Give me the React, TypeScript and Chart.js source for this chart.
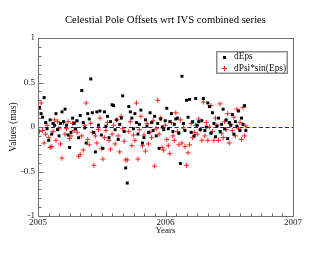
import React, { useEffect, useRef } from "react";
import { Chart, registerables } from "chart.js";

Chart.register(...registerables);

const titleText = "Celestial Pole Offsets wrt IVS combined series";
const xTitle = "Years";
const yTitle = "Values (mas)";
const seriesNames = ["dEps", "dPsi*sin(Eps)"];

const xTicks = [2005, 2006, 2007];
const yTicks = [-1, -0.5, 0, 0.5, 1];

const dates = [
  2005.012, 2005.024, 2005.036, 2005.048, 2005.060, 2005.071, 2005.084, 2005.095, 2005.107, 2005.118,
  2005.130, 2005.141, 2005.153, 2005.165, 2005.176, 2005.188, 2005.200, 2005.212, 2005.224, 2005.236,
  2005.248, 2005.259, 2005.271, 2005.283, 2005.295, 2005.307, 2005.319, 2005.331, 2005.343, 2005.355,
  2005.367, 2005.378, 2005.390, 2005.402, 2005.414, 2005.426, 2005.438, 2005.450, 2005.462, 2005.474,
  2005.486, 2005.497, 2005.509, 2005.521, 2005.533, 2005.545, 2005.557, 2005.569, 2005.581, 2005.593,
  2005.605, 2005.617, 2005.629, 2005.641, 2005.653, 2005.664, 2005.676, 2005.688, 2005.700, 2005.712,
  2005.724, 2005.736, 2005.748, 2005.760, 2005.772, 2005.784, 2005.795, 2005.807, 2005.819, 2005.831,
  2005.843, 2005.855, 2005.867, 2005.879, 2005.891, 2005.903, 2005.915, 2005.927, 2005.939, 2005.950,
  2005.962, 2005.974, 2005.986, 2005.998, 2006.010, 2006.022, 2006.034, 2006.046, 2006.058, 2006.069,
  2006.081, 2006.093, 2006.105, 2006.117, 2006.129, 2006.141, 2006.153, 2006.165, 2006.177, 2006.189,
  2006.201, 2006.213, 2006.225, 2006.237, 2006.249, 2006.261, 2006.273, 2006.285, 2006.297, 2006.309,
  2006.320, 2006.332, 2006.344, 2006.356, 2006.368, 2006.380, 2006.392, 2006.404, 2006.416, 2006.428,
  2006.440, 2006.452, 2006.464, 2006.476, 2006.488, 2006.500, 2006.512, 2006.524, 2006.536, 2006.548,
  2006.560, 2006.572, 2006.584, 2006.596, 2006.608, 2006.620, 2006.630,
];

const dEps = [
  0.22, 0.15, 0.11, 0.33, 0.05, -0.02, -0.15, 0.08, -0.08, 0.04,
  0.02, 0.15, -0.03, -0.10, 0.04, 0.17, 0.06, 0.20, 0.02, -0.09,
  -0.23, -0.06, 0.10, 0.04, -0.02, 0.07, -0.12, 0.13, 0.41, 0.05,
  -0.01, -0.18, 0.15, 0.09, 0.54, 0.16, -0.06, -0.28, 0.17, 0.02,
  0.18, -0.09, -0.24, 0.17, 0.01, 0.12, -0.12, 0.06, 0.25, 0.24,
  -0.03, 0.08, -0.14, 0.03, 0.10, 0.35, -0.05, -0.46, -0.63, 0.23,
  0.17, 0.10, -0.02, 0.15, 0.05, -0.08, 0.03, 0.19, -0.18, -0.12,
  0.08, 0.01, -0.06, 0.16, 0.05, -0.04, 0.12, -0.10, 0.04, -0.24,
  0.09, 0.00, -0.03, 0.07, 0.21, -0.02, 0.06, 0.15, -0.05, 0.03,
  0.09, 0.10, -0.07, -0.41, 0.57, 0.04, -0.04, 0.30, 0.11, 0.31,
  -0.06, 0.06, -0.10, 0.32, 0.02, 0.06, -0.03, 0.07, 0.32, -0.04,
  0.00, 0.27, 0.23, -0.07, 0.16, 0.04, -0.11, 0.01, 0.10, -0.05,
  0.03, 0.20, -0.02, 0.08, -0.13, 0.05, 0.02, 0.14, -0.08, 0.06,
  0.01, 0.18, -0.04, 0.10, 0.03, 0.24, -0.04,
];

const dPsiSinEps = [
  -0.05, 0.27, -0.04, -0.18, -0.08, 0.02, -0.12, -0.23, -0.22, -0.05,
  0.08, -0.15, 0.06, -0.02, -0.19, -0.35, 0.05, -0.08, -0.02, 0.06,
  -0.13, -0.10, 0.04, -0.04, 0.06, -0.06, -0.33, -0.31, -0.10, -0.26,
  0.02, 0.27, -0.14, -0.20, 0.04, -0.06, -0.43, -0.10, -0.18, -0.03,
  0.10, -0.24, -0.36, -0.12, -0.04, 0.05, -0.15, -0.25, -0.08, 0.02,
  -0.19, 0.08, -0.10, -0.28, 0.12, -0.02, -0.16, -0.37, -0.37, -0.05,
  0.06, -0.21, -0.09, -0.15, 0.27, -0.36, -0.03, 0.12, -0.21, -0.09,
  -0.27, 0.04, -0.19, -0.06, -0.12, 0.07, -0.44, -0.02, 0.30, -0.08,
  0.10, -0.23, -0.26, 0.02, -0.14, -0.21, -0.30, 0.05, -0.10, -0.15,
  0.16, -0.05, -0.20, 0.08, -0.18, -0.01, -0.22, -0.43, -0.29, -0.20,
  0.04, -0.12, -0.06, 0.02, -0.08, 0.09, -0.03, -0.15, 0.28, -0.10,
  0.05, -0.15, 0.00, 0.24, -0.05, -0.15, 0.10, 0.02, -0.15, 0.26,
  -0.07, -0.12, 0.06, -0.03, 0.15, -0.18, 0.03, -0.04, 0.11, -0.10,
  0.20, -0.02, 0.05, -0.14, 0.22, -0.10, 0.01,
];

const SERIF = "'Liberation Serif', 'Times New Roman', serif";
const FRAME = "#6e6e6e";

const decorPlugin = {
  id: "decor",
  beforeDatasetsDraw(chart: any) {
    const { ctx, chartArea: a, scales } = chart;
    const y0 = Math.round(scales.y.getPixelForValue(0)) + 0.5;
    ctx.save();
    ctx.strokeStyle = "#1c1cb0";
    ctx.lineWidth = 1;
    ctx.setLineDash([4, 2.5]);
    ctx.beginPath();
    ctx.moveTo(a.left, y0);
    ctx.lineTo(a.right, y0);
    ctx.stroke();
    ctx.restore();
  },
  afterDraw(chart: any) {
    const { ctx, chartArea: a, scales } = chart;
    const xs = scales.x;
    const ys = scales.y;
    ctx.save();
    ctx.fillStyle = "#000";
    ctx.font = `10.7px ${SERIF}`;
    ctx.textAlign = "center";
    ctx.textBaseline = "middle";
    ctx.fillText(titleText, (a.left + a.right) / 2, 20);

    ctx.strokeStyle = FRAME;
    ctx.lineWidth = 1;
    ctx.setLineDash([]);
    ctx.strokeRect(a.left + 0.5, a.top + 0.5, a.right - a.left, a.bottom - a.top);
    ctx.beginPath();
    for (let m = 0; m <= 24; m++) {
      const v = xTicks[0] + m / 12;
      const px = Math.round(xs.getPixelForValue(v)) + 0.5;
      const len = m % 12 === 0 ? 5 : 3;
      ctx.moveTo(px, a.bottom + 0.5);
      ctx.lineTo(px, a.bottom + 0.5 - len);
    }
    for (let i = -10; i <= 10; i++) {
      const v = i / 10;
      const py = Math.round(ys.getPixelForValue(v)) + 0.5;
      const len = i % 5 === 0 ? 5 : 3;
      ctx.moveTo(a.left + 0.5, py);
      ctx.lineTo(a.left + 0.5 + len, py);
    }
    ctx.stroke();

    const bx = 216, by = 51, bw = 72, bh = 23;
    ctx.fillStyle = "#ffffff";
    ctx.fillRect(bx, by, bw, bh);
    ctx.strokeStyle = "#8a8a8a";
    ctx.strokeRect(bx + 0.5, by + 0.5, bw - 1, bh - 1);
    ctx.strokeStyle = "#c4c4c4";
    ctx.strokeRect(bx + 1.5, by + 1.5, bw - 3, bh - 3);

    ctx.fillStyle = "#000";
    ctx.fillRect(223, 56, 3, 3);
    ctx.strokeStyle = "#ff2020";
    ctx.beginPath();
    ctx.moveTo(222, 68.5);
    ctx.lineTo(227, 68.5);
    ctx.moveTo(224.5, 66);
    ctx.lineTo(224.5, 71);
    ctx.stroke();

    ctx.fillStyle = "#111";
    ctx.font = `9.4px ${SERIF}`;
    ctx.textBaseline = "middle";
    ctx.textAlign = "left";
    ctx.fillText(seriesNames[0], 234, 57);
    ctx.fillText(seriesNames[1], 234, 68.5);
    ctx.restore();
  },
};

export default function App() {
  const ref = useRef<HTMLCanvasElement | null>(null);

  useEffect(() => {
    document.body.style.margin = "0";
    const canvas = ref.current;
    if (!canvas) return;
    const tickFont = { family: SERIF, size: 9, weight: "normal" as const };
    const chart = new Chart(canvas, {
      type: "scatter",
      data: {
        datasets: [
          {
            label: seriesNames[0],
            data: dates.map((d, i) => ({ x: d, y: dEps[i] })),
            pointStyle: "rect",
            pointRadius: 2.1,
            pointBorderWidth: 0,
            backgroundColor: "#000000",
            borderColor: "#000000",
          },
          {
            label: seriesNames[1],
            data: dates.map((d, i) => ({ x: d, y: dPsiSinEps[i] })),
            pointStyle: "cross",
            pointRadius: 2.5,
            pointBorderWidth: 1,
            backgroundColor: "#ff2020",
            borderColor: "#ff2020",
          },
        ],
      },
      options: {
        animation: false,
        responsive: false,
        maintainAspectRatio: false,
        layout: { padding: { left: 0, right: 37, top: 38, bottom: 0 } },
        plugins: {
          legend: { display: false },
          tooltip: { enabled: false },
          title: { display: false },
        },
        scales: {
          x: {
            type: "linear",
            min: xTicks[0],
            max: xTicks[xTicks.length - 1],
            afterBuildTicks: (s: any) => {
              s.ticks = xTicks.map((v) => ({ value: v }));
            },
            afterFit: (s: any) => {
              s.height = 39;
            },
            ticks: {
              callback: (v: any) => String(v),
              font: tickFont,
              color: "#222",
              padding: 1,
              maxRotation: 0,
              autoSkip: false,
            },
            grid: { display: false, drawTicks: false, tickLength: 0 },
            border: { display: false },
            title: {
              display: true,
              text: xTitle,
              color: "#111",
              font: tickFont,
              padding: { top: 0, bottom: 18.6 },
            },
          },
          y: {
            type: "linear",
            min: yTicks[0],
            max: yTicks[yTicks.length - 1],
            afterBuildTicks: (s: any) => {
              s.ticks = yTicks.map((v) => ({ value: v }));
            },
            afterFit: (s: any) => {
              s.width = 38;
            },
            ticks: {
              callback: (v: any) => String(v),
              font: tickFont,
              color: "#222",
              padding: 3,
              autoSkip: false,
            },
            grid: { display: false, drawTicks: false, tickLength: 0 },
            border: { display: false },
            title: {
              display: true,
              text: yTitle,
              color: "#111",
              font: { family: SERIF, size: 9.5, weight: "normal" },
              padding: { top: 8, bottom: 0 },
            },
          },
        },
      },
      plugins: [decorPlugin],
    });
    return () => chart.destroy();
  }, []);

  return (
    <div style={{ width: 330, height: 255 }}>
      <canvas ref={ref} width={330} height={255} />
    </div>
  );
}
